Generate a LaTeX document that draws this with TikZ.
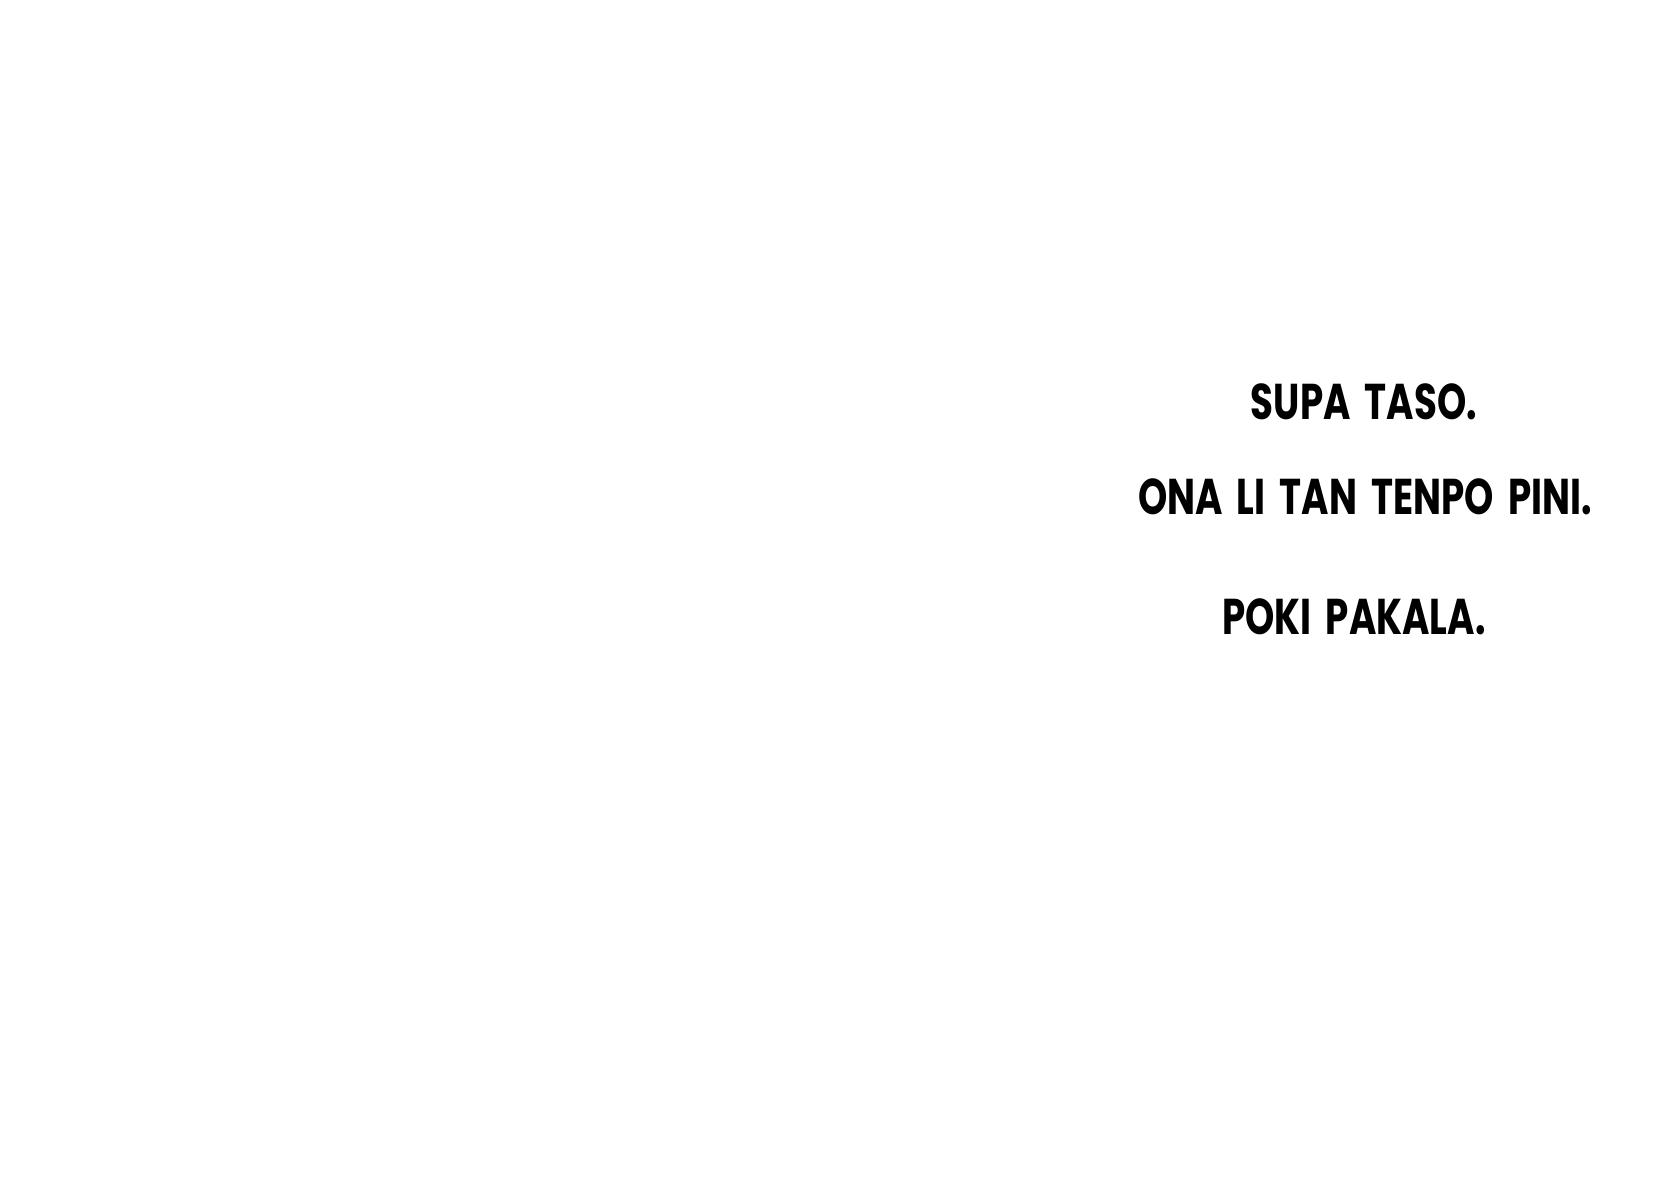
\documentclass[tikz,border=0pt]{standalone}
\usepackage{fontspec}
\newfontfamily\comicfont[FakeStretch=0.74,WordSpace=1.8]{Poppins}
\usetikzlibrary{positioning}
\tikzstyle{saying}=[
	anchor=base,
	inner sep=0pt,
	font=\comicfont\bfseries\fontsize{14.3}{17}\selectfont
]

\begin{document}
\begin{tikzpicture}[x=0.01cm,y=-0.01cm]
\useasboundingbox [fill=white] (0,0) rectangle (1659,1185);
\node [saying] (SupaTaso) at (1364,420) {SUPA TASO.};
\node [saying] (OnaLi) at (1365,515) {ONA LI TAN TENPO PINI.};
\node [saying] (PokiPakala) at (1354,635) {POKI PAKALA.};
\end{tikzpicture}
\end{document}
